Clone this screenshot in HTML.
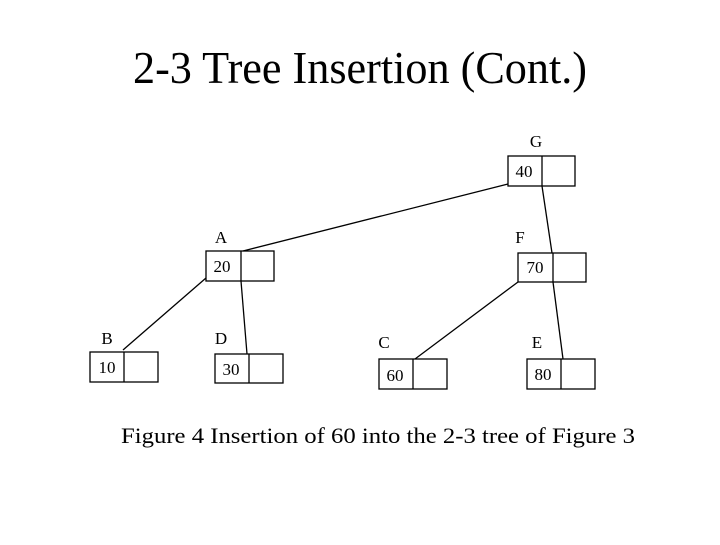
<!DOCTYPE html>
<html><head><meta charset="utf-8"><style>html,body{margin:0;padding:0;background:#fff;}</style></head>
<body>
<svg width="720" height="540" xmlns="http://www.w3.org/2000/svg" font-family="Liberation Serif, serif">
<rect width="720" height="540" fill="#fff"/>
<text x="133" y="83" font-size="46" textLength="454" lengthAdjust="spacingAndGlyphs">2-3 Tree Insertion (Cont.)</text>
<g stroke="#000" stroke-width="1.3" fill="none">
<rect x="508" y="156" width="67" height="30"/><line x1="542" y1="156" x2="542" y2="186"/>
<rect x="206" y="251" width="68" height="30"/><line x1="241" y1="251" x2="241" y2="281"/>
<rect x="518" y="253" width="68" height="29"/><line x1="553" y1="253" x2="553" y2="282"/>
<rect x="90" y="352" width="68" height="30"/><line x1="124" y1="352" x2="124" y2="382"/>
<rect x="215" y="354" width="68" height="29"/><line x1="249" y1="354" x2="249" y2="383"/>
<rect x="379" y="359" width="68" height="30"/><line x1="413" y1="359" x2="413" y2="389"/>
<rect x="527" y="359" width="68" height="30"/><line x1="561" y1="359" x2="561" y2="389"/>
<line x1="508" y1="184" x2="243" y2="251"/>
<line x1="542" y1="186" x2="552" y2="253"/>
<line x1="206" y1="278" x2="123" y2="350"/>
<line x1="241" y1="281" x2="247" y2="354"/>
<line x1="518" y1="282" x2="415" y2="359"/>
<line x1="553" y1="282" x2="563" y2="359"/>
</g>
<g font-size="17">
<text x="536" y="147" text-anchor="middle">G</text>
<text x="221" y="243" text-anchor="middle">A</text>
<text x="520" y="243" text-anchor="middle">F</text>
<text x="107" y="344" text-anchor="middle">B</text>
<text x="221" y="344" text-anchor="middle">D</text>
<text x="384" y="348" text-anchor="middle">C</text>
<text x="537" y="348" text-anchor="middle">E</text>
<text x="524" y="177" text-anchor="middle">40</text>
<text x="222" y="272" text-anchor="middle">20</text>
<text x="535" y="273" text-anchor="middle">70</text>
<text x="107" y="373" text-anchor="middle">10</text>
<text x="231" y="375" text-anchor="middle">30</text>
<text x="395" y="381" text-anchor="middle">60</text>
<text x="543" y="380" text-anchor="middle">80</text>
</g>
<text x="121" y="443" font-size="22" textLength="514" lengthAdjust="spacingAndGlyphs">Figure 4 Insertion of 60 into the 2-3 tree of Figure 3</text>
</svg>
</body></html>
